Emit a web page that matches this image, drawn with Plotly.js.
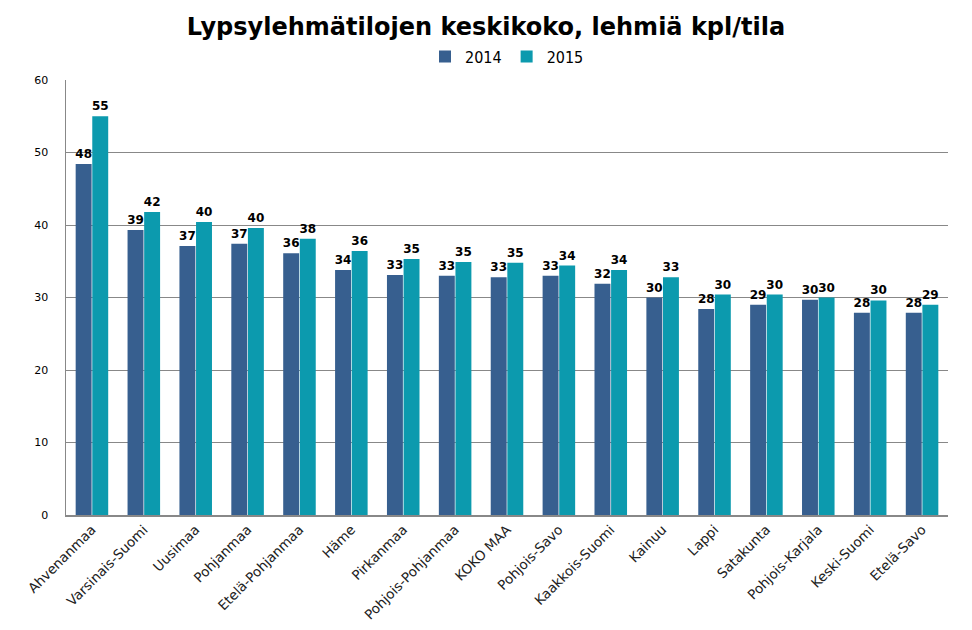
<!DOCTYPE html>
<html>
<head>
<meta charset="utf-8">
<script src="https://cdn.plot.ly/plotly-3.0.1.min.js"></script>
<style>body{margin:0;padding:0;background:#fff}#chart{width:972px;height:630px}</style>
</head>
<body>
<div id="chart"></div>
<script>
const categories = ["Ahvenanmaa","Varsinais-Suomi","Uusimaa","Pohjanmaa","Etelä-Pohjanmaa","Häme","Pirkanmaa","Pohjois-Pohjanmaa","KOKO MAA","Pohjois-Savo","Kaakkois-Suomi","Kainuu","Lappi","Satakunta","Pohjois-Karjala","Keski-Suomi","Etelä-Savo"];
const values2014 = [48.4,39.3,37.1,37.4,36.1,33.8,33.1,33.0,32.8,33.0,31.9,30.0,28.4,29.0,29.7,27.9,27.9];
const values2015 = [55.0,41.8,40.4,39.6,38.1,36.4,35.3,34.9,34.8,34.4,33.8,32.8,30.4,30.4,30.0,29.6,29.0];
const seriesNames = ["2014","2015"];
const yTicks = [0,10,20,30,40,50,60];

const colors = ["#375f8f","#0c9aae"];
const labelFont = {family:"DejaVu Sans, Verdana, sans-serif", size:12, color:"#000", weight:"bold"};

const traces = [values2014, values2015].map((vals,i)=>({
  type:"bar",
  name: seriesNames[i],
  x: categories,
  y: vals,
  marker:{color:colors[i]},
  texttemplate:"<b>%{y:.0f}</b>",
  textposition:"outside",
  constraintext:"none",
  textfont: labelFont,
  cliponaxis:false,
  hoverinfo:"x+y"
}));

const layout = {
  width:972, height:630,
  margin:{l:66, r:24, t:80, b:115},
  paper_bgcolor:"#fff", plot_bgcolor:"#fff",
  title:{text:"<b>Lypsylehmätilojen keskikoko, lehmiä kpl/tila</b>", x:0.5, xanchor:"center", y:0.958, yanchor:"middle",
    font:{family:"DejaVu Sans, Verdana, sans-serif", size:24, color:"#000"}},
  barmode:"group",
  bargap:0.36,
  bargroupgap:0.04,
  showlegend:true,
  legend:{orientation:"h", x:0.5, xanchor:"center", y:1.015, yanchor:"bottom",
    font:{family:"DejaVu Sans Condensed, Liberation Sans Narrow, sans-serif", size:16, color:"#000"},
    traceorder:"normal", itemwidth:30, itemsizing:"constant", tracegroupgap:0},
  xaxis:{
    type:"category",
    tickangle:-45,
    tickfont:{family:"DejaVu Sans, Verdana, sans-serif", size:13.5, color:"#222"},
    showline:true, linecolor:"#888", linewidth:1.5,
    ticks:"", showgrid:false
  },
  yaxis:{
    range:[0,60],
    tickvals:yTicks,
    ticktext:yTicks.map(String),
    tickfont:{family:"DejaVu Sans, Verdana, sans-serif", size:11, color:"#000"},
    showline:true, linecolor:"#888", linewidth:1.5,
    showgrid:true, gridcolor:"#888", gridwidth:1,
    zeroline:false,
    ticks:"", ticklabelstandoff:14
  }
};

Plotly.newPlot("chart", traces, layout, {displayModeBar:false, staticPlot:true});
</script>
</body>
</html>
